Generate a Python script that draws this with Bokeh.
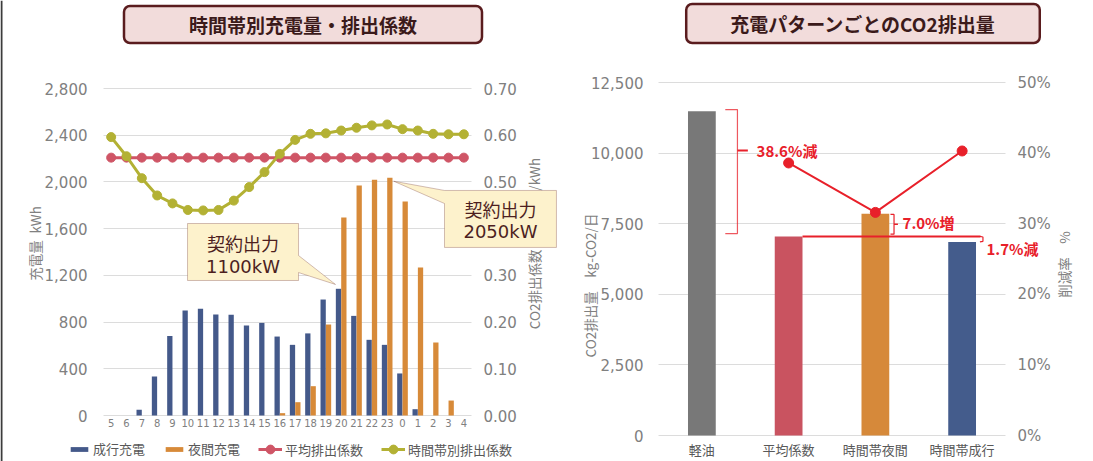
import math
from bokeh.plotting import figure
from bokeh.models import (Range1d, LinearAxis, FixedTicker, NumeralTickFormatter, Label,
                          Legend, LegendItem, PolyAnnotation, Grid)
from bokeh.layouts import row
from bokeh.embed import file_html
from bokeh.resources import INLINE

# ---------------- data (left chart) ----------------
hours = ["5", "6", "7", "8", "9", "10", "11", "12", "13", "14", "15", "16", "17", "18",
         "19", "20", "21", "22", "23", "0", "1", "2", "3", "4"]
spot_charge = [0, 0, 50, 335, 680, 900, 913, 864, 862, 770, 793, 676, 605, 703,
               993, 1085, 853, 648, 605, 360, 54, 0, 0, 0]
night_charge = [0, 0, 0, 0, 0, 0, 0, 0, 0, 0, 0, 20, 114, 251,
                779, 1695, 1969, 2018, 2035, 1832, 1267, 625, 128, 0]
avg_coef = [0.552, 0.552, 0.552, 0.552, 0.552, 0.552, 0.552, 0.552, 0.552, 0.552, 0.552, 0.552,
            0.552, 0.552, 0.552, 0.552, 0.552, 0.552, 0.552, 0.552, 0.552, 0.552, 0.552, 0.552]
hourly_coef = [0.596, 0.555, 0.508, 0.471, 0.454, 0.440, 0.439, 0.440, 0.460, 0.489, 0.521, 0.560,
               0.590, 0.603, 0.604, 0.610, 0.616, 0.621, 0.623, 0.613, 0.610, 0.603, 0.602, 0.602]
kwh_ticks = [0, 400, 800, 1200, 1600, 2000, 2400, 2800]
coef_ticks = [0.0, 0.1, 0.2, 0.3, 0.4, 0.5, 0.6, 0.7]
series_names = ["成行充電", "夜間充電", "平均排出係数", "時間帯別排出係数"]

# ---------------- data (right chart) ----------------
patterns = ["軽油", "平均係数", "時間帯夜間", "時間帯成行"]
emission = [11480, 7050, 7850, 6855]
reduction_rate = [0.386, 0.316, 0.403]          # for patterns[1:]
emission_ticks = [0, 2500, 5000, 7500, 10000, 12500]
pct_ticks = [0.0, 0.1, 0.2, 0.3, 0.4, 0.5]

# ---------------- style ----------------
JP = "Noto Sans CJK JP"
NUM = "DejaVu Sans"
TICK_C = "#808080"
GRID_C = "#dcdcdc"
BLUE = "#44598a"
ORANGE = "#d78a39"
RED_L = "#cf5566"
OLIVE = "#b3b134"
RED = "#e8202a"
CALL_FILL = "#fdf2cc"
CALL_LINE = "#6b2a2a"
CALL_TEXT = "#4d1f1f"
TITLE_FILL = "#f2dcdb"
TITLE_LINE = "#5a1c1e"
TITLE_TEXT = "#3b1a1a"
HAS_CROSS = "cross_bounds" in Grid.properties()


def style_axis(ax, font=NUM, size="15px", color=TICK_C, standoff=12):
    ax.axis_line_color = None
    ax.major_tick_line_color = None
    ax.minor_tick_line_color = None
    ax.major_tick_out = 0
    ax.major_tick_in = 0
    ax.minor_tick_out = 0
    ax.minor_tick_in = 0
    ax.major_label_text_font = font
    ax.major_label_text_font_size = size
    ax.major_label_text_color = color
    ax.major_label_standoff = standoff


def base_fig(w, h, xr, yr):
    p = figure(width=w, height=h, x_range=xr, y_range=yr, output_backend="svg",
               toolbar_location=None, min_border=0, min_border_left=0, min_border_right=0,
               min_border_top=0, min_border_bottom=0)
    p.outline_line_color = None
    p.xgrid.grid_line_color = None
    p.background_fill_color = "white"
    p.border_fill_color = "white"
    return p


def hgrid(p, ticks, x0, x1):
    t = FixedTicker(ticks=ticks)
    if HAS_CROSS:
        p.ygrid.ticker = t
        p.ygrid.grid_line_color = GRID_C
        p.ygrid.cross_bounds = (x0, x1)
    else:
        p.ygrid.grid_line_color = None
        p.segment(x0=x0, x1=x1, y0=ticks, y1=ticks, line_color=GRID_C, line_width=1)


# ================= LEFT CHART (frame = whole canvas) =================
W1, H = 565, 461
FL1, FR1, FT1, FB1 = 103, 471, 88, 415           # plotting area in canvas px
cpx1 = (FR1 - FL1) / len(hours)                  # px per category
kpx = (FB1 - FT1) / 2800                         # px per kWh
cpx_coef = (FB1 - FT1) / 0.7
p1 = base_fig(W1, H,
              Range1d(-0.5 - FL1 / cpx1, -0.5 + (W1 - FL1) / cpx1),
              Range1d(-(H - FB1) / kpx, 2800 + FT1 / kpx))
hgrid(p1, kwh_ticks, -0.5, len(hours) - 0.5)
p1.yaxis.ticker = FixedTicker(ticks=kwh_ticks)
p1.yaxis.formatter = NumeralTickFormatter(format="0,0")
p1.yaxis[0].fixed_location = -0.5
style_axis(p1.yaxis[0], standoff=16)
p1.xaxis.ticker = FixedTicker(ticks=list(range(len(hours))))
p1.xaxis.major_label_overrides = {i: h for i, h in enumerate(hours)}
p1.xaxis[0].fixed_location = 0
style_axis(p1.xaxis[0], size="10px", standoff=3)

p1.extra_y_ranges = {"co2": Range1d(-(H - FB1) / cpx_coef, 0.7 + FT1 / cpx_coef)}
rax = LinearAxis(y_range_name="co2", ticker=FixedTicker(ticks=coef_ticks),
                 formatter=NumeralTickFormatter(format="0.00"),
                 fixed_location=len(hours) - 0.5)
style_axis(rax, standoff=12)
p1.add_layout(rax, "right")

idx = list(range(len(hours)))
b_spot = p1.vbar(x=[i - 0.175 for i in idx], top=spot_charge, width=0.345,
                 fill_color=BLUE, line_color=None)
b_night = p1.vbar(x=[i + 0.175 for i in idx], top=night_charge, width=0.345,
                  fill_color=ORANGE, line_color=None)
l_avg = p1.line(idx, avg_coef, y_range_name="co2", line_color=RED_L, line_width=3)
s_avg = p1.scatter(idx, avg_coef, y_range_name="co2", size=9, fill_color=RED_L, line_color=RED_L)
l_hr = p1.line(idx, hourly_coef, y_range_name="co2", line_color=OLIVE, line_width=3)
s_hr = p1.scatter(idx, hourly_coef, y_range_name="co2", size=9, fill_color=OLIVE, line_color=OLIVE)


def leg(items, loc, gh, gw):
    return Legend(items=items, location=loc, orientation="horizontal", glyph_width=gw,
                  glyph_height=gh, label_standoff=3, spacing=18, padding=0, margin=0,
                  border_line_color=None, background_fill_alpha=0,
                  label_text_font=JP, label_text_font_size="13px",
                  label_text_color="#595959", label_height=16)


p1.add_layout(leg([LegendItem(label=series_names[0], renderers=[b_spot]),
                   LegendItem(label=series_names[1], renderers=[b_night])],
                  (68, 3), 6, 22))
p1.add_layout(leg([LegendItem(label=series_names[2], renderers=[l_avg, s_avg]),
                   LegendItem(label=series_names[3], renderers=[l_hr, s_hr])],
                  (258, 1), 22, 24))


def slabel(p, xoff, px, py, text, **kw):
    opts = dict(x=px - xoff, y=H - py, x_units="screen", y_units="screen", text=text,
                text_align="center", text_baseline="middle", text_font=JP,
                text_font_size="13.5px", text_color=TICK_C)
    opts.update(kw)
    lab = Label(**opts)
    p.add_layout(lab)
    return lab


# axis titles
slabel(p1, 0, 34, 243, "充電量\u2002kWh", angle=math.pi / 2)
slabel(p1, 0, 533, 243, "CO2排出係数　kg-CO2/kWh", angle=math.pi / 2)

# title box
slabel(p1, 0, 302.5, 24, "時間帯別充電量・排出係数", text_font_size="19px",
       text_font_style="bold", text_color=TITLE_TEXT, background_fill_color=TITLE_FILL,
       border_line_color=TITLE_LINE, border_line_width=2.5, border_radius=6,
       padding=dict(left=65, right=65, top=5, bottom=5))

# left border line of the page
p1.add_layout(PolyAnnotation(xs=[0, 2, 2, 0], ys=[0, 0, H, H],
                             xs_units="screen", ys_units="screen", fill_color="#3c3c3c",
                             fill_alpha=1, line_color=None))

# callout 1 (anchored to the 20h spot-charge bar)
a1 = hours.index("20")
ax1, ay1 = a1 - 0.37, spot_charge[a1] + 37
p1.add_layout(PolyAnnotation(
    xs=[a1 - 10.02, a1 - 2.78, a1 - 2.78, ax1, a1 - 2.78, a1 - 2.78, a1 - 10.02],
    ys=[1644, 1644, 1370, ay1, 1224, 1156, 1156],
    fill_color=CALL_FILL, fill_alpha=1, line_color=CALL_LINE, line_width=1))
p1.add_layout(Label(x=a1 - 6.4, y=1473, text="契約出力", text_align="center",
                    text_baseline="middle", text_font=JP, text_font_size="18px",
                    text_color=CALL_TEXT))
p1.add_layout(Label(x=a1 - 6.4, y=1276, text="1100kW", text_align="center",
                    text_baseline="middle", text_font=NUM, text_font_size="18px",
                    text_color=CALL_TEXT))

# callout 2 (anchored to the 23h night-charge bar)
a2 = hours.index("23")
ax2, ay2 = a2 + 0.43, night_charge[a2] - 29
p1.add_layout(PolyAnnotation(
    xs=[a2 + 3.74, a2 + 11.04, a2 + 11.04, a2 + 3.74, a2 + 3.74, ax2, a2 + 3.74],
    ys=[1927, 1927, 1439, 1439, 1815, ay2, 1927],
    fill_color=CALL_FILL, fill_alpha=1, line_color=CALL_LINE, line_width=1))
p1.add_layout(Label(x=a2 + 7.39, y=1772, text="契約出力", text_align="center",
                    text_baseline="middle", text_font=JP, text_font_size="18px",
                    text_color=CALL_TEXT))
p1.add_layout(Label(x=a2 + 7.39, y=1576, text="2050kW", text_align="center",
                    text_baseline="middle", text_font=NUM, text_font_size="18px",
                    text_color=CALL_TEXT))

# ================= RIGHT CHART (frame = whole canvas) =================
W2 = 528
OFF = 565                                  # canvas offset of the second figure
FL2, FR2, FT2, FB2 = 658 - OFF, 1005 - OFF, 82, 435
cpx2 = (FR2 - FL2) / len(patterns)
epx = (FB2 - FT2) / 12500
ppx = (FB2 - FT2) / 0.5
p2 = base_fig(W2, H,
              Range1d(-0.5 - FL2 / cpx2, -0.5 + (W2 - FL2) / cpx2),
              Range1d(-(H - FB2) / epx, 12500 + FT2 / epx))
hgrid(p2, emission_ticks, -0.5, len(patterns) - 0.5)
p2.yaxis.ticker = FixedTicker(ticks=emission_ticks)
p2.yaxis.formatter = NumeralTickFormatter(format="0,0")
p2.yaxis[0].fixed_location = -0.5
style_axis(p2.yaxis[0], standoff=15)
p2.xaxis.ticker = FixedTicker(ticks=list(range(len(patterns))))
p2.xaxis.major_label_overrides = {i: c for i, c in enumerate(patterns)}
p2.xaxis[0].fixed_location = 0
style_axis(p2.xaxis[0], font=JP, size="13px", color="#595959", standoff=4)

p2.extra_y_ranges = {"pct": Range1d(-(H - FB2) / ppx, 0.5 + FT2 / ppx)}
rax2 = LinearAxis(y_range_name="pct", ticker=FixedTicker(ticks=pct_ticks),
                  formatter=NumeralTickFormatter(format="0%"),
                  fixed_location=len(patterns) - 0.5)
style_axis(rax2, standoff=12)
p2.add_layout(rax2, "right")

bar_colors = ["#787878", "#c95360", "#d6893a", "#445c8c"]
p2.vbar(x=list(range(len(patterns))), top=emission, width=0.32, fill_color=bar_colors,
        line_color=None)

ridx = list(range(1, len(patterns)))
p2.line(ridx, reduction_rate, y_range_name="pct", line_color=RED, line_width=2)
p2.scatter(ridx, reduction_rate, y_range_name="pct", size=10, fill_color=RED, line_color=RED)

slabel(p2, OFF, 589, 285, "CO2排出量　kg-CO2/日", angle=math.pi / 2)
slabel(p2, OFF, 1063, 264, "削減率　%", angle=math.pi / 2)
slabel(p2, OFF, 862.5, 23, "充電パターンごとのCO2排出量", text_font_size="19px",
       text_font_style="bold", text_color=TITLE_TEXT, background_fill_color=TITLE_FILL,
       border_line_color=TITLE_LINE, border_line_width=2.5, border_radius=6,
       padding=dict(left=44, right=44, top=6, bottom=6))

# bracket 1: diesel -> average
top1, bot1 = emission[0] + 60, emission[1] + 100
mid1 = bot1 + 0.67 * (top1 - bot1)
p2.line([0.27, 0.41, 0.41, 0.27], [top1, top1, bot1, bot1], line_color=RED, line_width=1.2,
        line_alpha=0.75)
p2.line([0.41, 0.53], [mid1, mid1], line_color=RED, line_width=2)
t1 = (emission[0] - emission[1]) / emission[0] * 100
p2.add_layout(Label(x=0.63, y=mid1, text=f"{t1:.1f}%減", text_align="left",
                    text_baseline="middle", text_font=JP, text_font_size="15px",
                    text_font_style="bold", text_color=RED))

# average reference line
p2.line([1.16, 3.21], [emission[1], emission[1]], line_color=RED, line_width=2)

# bracket 2: night vs average
top2, bot2 = emission[2] - 20, emission[1] + 80
mid2 = (top2 + bot2) / 2
p2.line([2.174, 2.215, 2.215, 2.174], [top2, top2, bot2, bot2], line_color=RED, line_width=1.2)
p2.line([2.215, 2.26], [mid2, mid2], line_color=RED, line_width=1.5)
t2 = (emission[2] - emission[1]) / emission[0] * 100
p2.add_layout(Label(x=2.313, y=mid2 + 60, text=f"{t2:.1f}%増", text_align="left",
                    text_baseline="middle", text_font=JP, text_font_size="15px",
                    text_font_style="bold", text_color=RED))

# bracket 3: spot vs average
top3, bot3 = emission[1], emission[3]
p2.line([3.205, 3.24, 3.24, 3.205], [top3, top3 - 20, bot3 + 20, bot3], line_color=RED,
        line_width=1.2)
t3 = (emission[1] - emission[3]) / emission[0] * 100
p2.add_layout(Label(x=3.28, y=6622, text=f"{t3:.1f}%減", text_align="left",
                    text_baseline="middle", text_font=JP, text_font_size="15px",
                    text_font_style="bold", text_color=RED))

layout = row(p1, p2, spacing=0)
open("out.html", "w").write(file_html(layout, INLINE))
